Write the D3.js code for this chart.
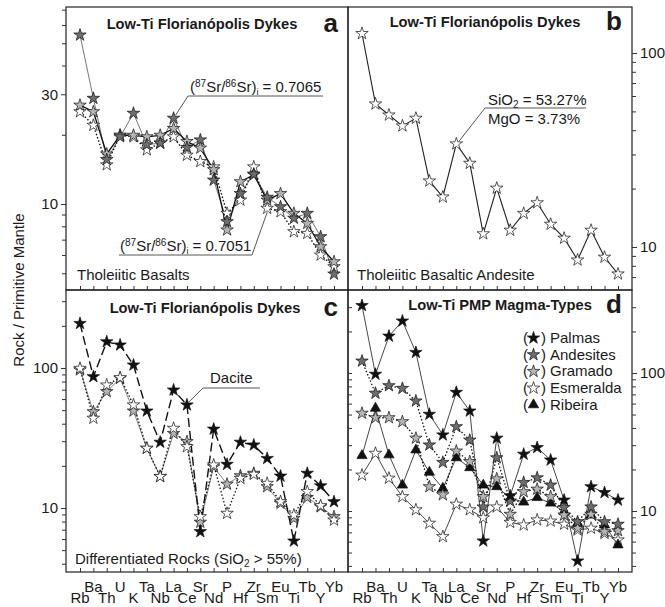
<!DOCTYPE html>
<html>
<head>
<meta charset="utf-8">
<script src="https://cdn.jsdelivr.net/npm/d3@7"></script>
<style>
  body { margin: 0; background: #fff; }
  svg { display: block; }
  text { font-family: "Liberation Sans", Arial, Helvetica, sans-serif; fill: #1a1a1a; }
</style>
</head>
<body>
<svg id="chart" width="665" height="607"></svg>
<script>
// Elements of the primitive-mantle normalised spider diagram (left to right)
const elements = ["Rb","Ba","Th","U","K","Ta","Nb","La","Ce","Sr","Nd","P","Hf","Zr","Sm","Eu","Ti","Tb","Y","Yb"];
// Axis labels are staggered in two rows
const upperRowLabels = ["Ba","U","Ta","La","Sr","P","Zr","Eu","Tb","Yb"];
const lowerRowLabels = ["Rb","Th","K","Nb","Ce","Nd","Hf","Sm","Ti","Y"];

// (a) Low-Ti Florianópolis dykes, tholeiitic basalts
const aHighSr  = [54.3,28.8,15.6,19.6,24.8,18.1,18.4,23.6,17.6,19.0,12.7,8.38,11.1,13.5,10.7,9.73,8.67,9.11,7.21,4.96];
const aMidSr   = [26.9,25.2,16.5,19.9,19.9,19.6,19.9,21.3,18.7,17.5,14.1,7.71,12.5,13.4,10.4,11.1,9.11,8.24,6.52,5.61];
const aLowSr   = [25.2,22.0,14.8,19.9,19.6,17.2,18.4,19.6,16.3,15.3,14.5,9.11,10.4,14.5,9.58,9.26,7.58,7.45,6.0,5.34];

// (b) tholeiitic basaltic andesite
const bAndesite = [126,54.6,47.9,42.1,46.1,21.9,18.1,34.0,27.0,11.7,20.1,12.2,14.9,16.9,13.1,11.1,8.57,12.2,8.86,7.26];

// (c) differentiated rocks (SiO2 > 55%)
const cDacite  = [208,86.7,154,146,105,49.3,29.5,69.6,54.5,6.78,36.6,20.5,29.5,28.2,22.6,16.9,5.81,17.7,14.4,11.1];
const cGrey    = [97,48.7,67.8,84.4,49.3,26.7,16.8,34.1,29.8,7.91,19.7,14.8,17.0,17.7,14.2,10.8,8.43,11.9,10.2,8.67];
const cWhite   = [99.5,43.8,75.6,85.3,54.5,26.7,16.8,37.1,27.4,8.67,20.3,9.16,16.3,17.4,15.0,11.1,8.91,13.1,10.4,8.2];

// (d) Low-Ti PMP magma-types
const dPalmas     = [308,97.9,185,238,141,50.2,35.6,72.4,53.0,6.07,33.7,12.9,25.8,28.8,23.4,12.0,4.34,15.0,13.6,12.0];
const dAndesites  = [122,71.3,80.9,77.4,62.7,30.1,22.5,40.8,32.6,10.7,24.3,11.8,16.1,17.4,15.4,10.6,8.36,10.7,8.36,8.02];
const dGramado    = [51.1,47.4,47.4,44.4,33.7,15.0,13.1,27.2,22.8,12.7,17.1,9.46,13.8,14.4,12.7,9.35,7.5,9.46,7.08,7.2];
const dEsmeralda  = [18.2,26.2,17.3,12.7,10.2,8.15,6.52,11.2,10.2,8.93,10.7,8.27,7.92,8.61,8.45,8.02,7.28,7.5,6.88,6.17];
const dRibeira    = [25.2,55.5,25.5,15.4,27.7,19.1,14.6,24.3,20.6,15.4,15.0,12.4,11.6,12.5,11.4,9.89,8.15,9.35,7.92,5.68];
const legendNames = ["Palmas","Andesites","Gramado","Esmeralda","Ribeira"];

// y-axis labelled values per panel
const aTickLabels = [10, 30];
const bTickLabels = [10, 100];
const cTickLabels = [10, 100];
const dTickLabels = [10, 100];

const svg = d3.select("#chart");
svg.append("rect").attr("width", 665).attr("height", 607).attr("fill", "#fff");

const FONT = 15;
const STAR = d3.symbol().type(d3.symbolStar).size(48);
const TRI = d3.symbol().type(d3.symbolTriangle).size(46);

const panels = {
  a: { x0: 66,  x1: 348, y0: 7,   y1: 290, domain: [4.228, 71.88], side: "left",  labels: aTickLabels },
  b: { x0: 348, x1: 632, y0: 7,   y1: 290, domain: [6.003, 172.6], side: "right", labels: bTickLabels },
  c: { x0: 66,  x1: 348, y0: 290, y1: 572, domain: [3.491, 360.7], side: "left",  labels: cTickLabels },
  d: { x0: 348, x1: 632, y0: 290, y1: 572, domain: [3.614, 399.4], side: "right", labels: dTickLabels }
};

function minorValues(domain) {
  const out = [];
  for (let e = -1; e <= 3; e++) {
    for (let m = 1; m <= 9; m++) {
      const v = m * Math.pow(10, e);
      if (v >= domain[0] && v <= domain[1]) out.push(v);
    }
  }
  return out;
}

Object.entries(panels).forEach(([key, p]) => {
  p.x = d3.scalePoint().domain(elements).range([p.x0 + 14, p.x1 - 14]);
  p.y = d3.scaleLog().domain(p.domain).range([p.y1, p.y0]);
  p.g = svg.append("g");

  // frame
  p.g.append("rect")
    .attr("x", p.x0).attr("y", p.y0)
    .attr("width", p.x1 - p.x0).attr("height", p.y1 - p.y0)
    .attr("fill", "none").attr("stroke", "#222").attr("stroke-width", 1.2);

  // element ticks along the bottom edge, pointing inward
  const xAxis = d3.axisBottom(p.x).tickSize(-4).tickFormat("");
  const gx = p.g.append("g").attr("transform", `translate(0,${p.y1})`).call(xAxis);
  gx.select(".domain").remove();
  gx.selectAll("line").attr("stroke", "#333");

  // log y axis: minor ticks + labelled ticks
  const minors = minorValues(p.domain).filter(v => !p.labels.includes(v));
  const axisFn = p.side === "left" ? d3.axisLeft : d3.axisRight;
  const ax = p.side === "left" ? p.x0 : p.x1;
  const gMinor = p.g.append("g").attr("transform", `translate(${ax},0)`)
    .call(axisFn(p.y).tickValues(minors).tickSize(4).tickFormat(""));
  gMinor.select(".domain").remove();
  gMinor.selectAll("line").attr("stroke", "#333");
  const gMajor = p.g.append("g").attr("transform", `translate(${ax},0)`)
    .call(axisFn(p.y).tickValues(p.labels).tickSize(5).tickPadding(3).tickFormat(d3.format("d")));
  gMajor.select(".domain").remove();
  gMajor.selectAll("line").attr("stroke", "#333");
  gMajor.selectAll("text").attr("font-size", FONT).attr("fill", "#1a1a1a")
    .attr("font-family", '"Liberation Sans", Arial, sans-serif');
});

// inward ticks of panel d on the shared vertical edge
{
  const p = panels.d;
  const gi = p.g.append("g").attr("transform", `translate(${p.x0},0)`)
    .call(d3.axisRight(p.y).tickValues(minorValues(p.domain)).tickSize(4).tickFormat(""));
  gi.select(".domain").remove();
  gi.selectAll("line").attr("stroke", "#333");
}

function drawSeries(p, values, opt) {
  const line = d3.line().x((d, i) => p.x(elements[i])).y(d => p.y(d));
  p.g.append("path").datum(values)
    .attr("d", line)
    .attr("fill", "none")
    .attr("stroke", opt.lineColor)
    .attr("stroke-width", opt.lineWidth)
    .attr("stroke-dasharray", opt.dash || null);
}
function drawMarks(p, values, opt) {
  p.g.append("g").selectAll("path").data(values).join("path")
    .attr("d", opt.symbol || STAR)
    .attr("transform", (d, i) => `translate(${p.x(elements[i])},${p.y(d)})`)
    .attr("fill", opt.fill)
    .attr("stroke", "#111")
    .attr("stroke-width", 0.7);
}

const DARK = "#6e6e6e", LIGHT = "#b5b5b5", WHITE = "#ffffff", BLACK = "#111";

function title(p, txt, letter, cx, by) {
  p.g.append("text").attr("x", cx).attr("y", by).attr("text-anchor", "middle")
    .attr("font-size", 14.7).attr("font-weight", "bold").text(txt);
  p.g.append("text").attr("x", p.x1 - 10).attr("y", by + 3).attr("text-anchor", "end")
    .attr("font-size", 26).attr("font-weight", "bold").text(letter);
}

// ---------- panel a ----------
{
  const p = panels.a;
  drawSeries(p, aHighSr, { lineColor: "#666", lineWidth: 0.9 });
  drawSeries(p, aMidSr, { lineColor: "#111", lineWidth: 1.3 });
  drawSeries(p, aLowSr, { lineColor: "#111", lineWidth: 1.4, dash: "1.5,2" });
  drawMarks(p, aLowSr, { fill: WHITE });
  drawMarks(p, aMidSr, { fill: LIGHT });
  drawMarks(p, aHighSr, { fill: DARK });
  title(p, "Low-Ti Florianópolis Dykes", "a", 202, 29);

  // isotope ratio callouts
  const laX = p.x("La"), laY = p.y(aHighSr[7]);
  p.g.append("path").attr("d", `M${laX + 2},${laY - 3}L188,96H323`)
    .attr("fill", "none").attr("stroke", "#444").attr("stroke-width", 0.9);
  const t1 = p.g.append("text").attr("x", 190).attr("y", 92).attr("font-size", FONT);
  t1.append("tspan").text("(");
  t1.append("tspan").attr("font-size", 10).attr("dy", -5).text("87");
  t1.append("tspan").attr("dy", 5).text("Sr/");
  t1.append("tspan").attr("font-size", 10).attr("dy", -5).text("86");
  t1.append("tspan").attr("dy", 5).text("Sr)");
  t1.append("tspan").attr("font-size", 9).attr("dy", 3).text("i");
  t1.append("tspan").attr("dy", -3).text(" = 0.7065");

  const smX = p.x("Sm"), smY = p.y(aLowSr[14]);
  p.g.append("path").attr("d", `M119,255H252L${smX},${smY + 4}`)
    .attr("fill", "none").attr("stroke", "#444").attr("stroke-width", 0.9);
  const t2 = p.g.append("text").attr("x", 120).attr("y", 251).attr("font-size", FONT);
  t2.append("tspan").text("(");
  t2.append("tspan").attr("font-size", 10).attr("dy", -5).text("87");
  t2.append("tspan").attr("dy", 5).text("Sr/");
  t2.append("tspan").attr("font-size", 10).attr("dy", -5).text("86");
  t2.append("tspan").attr("dy", 5).text("Sr)");
  t2.append("tspan").attr("font-size", 9).attr("dy", 3).text("i");
  t2.append("tspan").attr("dy", -3).text(" = 0.7051");

  p.g.append("text").attr("x", 77).attr("y", 280).attr("font-size", FONT).text("Tholeiitic Basalts");
}

// ---------- panel b ----------
{
  const p = panels.b;
  drawSeries(p, bAndesite, { lineColor: "#222", lineWidth: 1.1 });
  drawMarks(p, bAndesite, { fill: WHITE });
  title(p, "Low-Ti Florianópolis Dykes", "b", 485, 27);

  const laX = p.x("La"), laY = p.y(bAndesite[7]);
  p.g.append("path").attr("d", `M${laX + 3},${laY - 3}L485,108H586`)
    .attr("fill", "none").attr("stroke", "#444").attr("stroke-width", 0.9);
  const t = p.g.append("text").attr("x", 488).attr("y", 105).attr("font-size", FONT);
  t.append("tspan").text("SiO");
  t.append("tspan").attr("font-size", 10).attr("dy", 3).text("2");
  t.append("tspan").attr("dy", -3).text(" = 53.27%");
  p.g.append("text").attr("x", 488).attr("y", 124).attr("font-size", FONT).text("MgO = 3.73%");

  p.g.append("text").attr("x", 357).attr("y", 280).attr("font-size", FONT).text("Tholeiitic Basaltic Andesite");
}

// ---------- panel c ----------
{
  const p = panels.c;
  drawSeries(p, cGrey, { lineColor: "#777", lineWidth: 0.9 });
  drawSeries(p, cWhite, { lineColor: "#111", lineWidth: 1.3, dash: "1.5,2" });
  drawSeries(p, cDacite, { lineColor: "#111", lineWidth: 1.4, dash: "9,4" });
  drawMarks(p, cGrey, { fill: LIGHT });
  drawMarks(p, cWhite, { fill: WHITE });
  drawMarks(p, cDacite, { fill: BLACK });
  title(p, "Low-Ti Florianópolis Dykes", "c", 205, 313);

  const ceX = p.x("Ce"), ceY = p.y(cDacite[8]);
  p.g.append("path").attr("d", `M${ceX + 2},${ceY - 3}L203,388H260`)
    .attr("fill", "none").attr("stroke", "#444").attr("stroke-width", 0.9);
  p.g.append("text").attr("x", 210).attr("y", 383).attr("font-size", FONT).text("Dacite");

  const t = p.g.append("text").attr("x", 75).attr("y", 564).attr("font-size", FONT);
  t.append("tspan").text("Differentiated Rocks (SiO");
  t.append("tspan").attr("font-size", 10).attr("dy", 3).text("2");
  t.append("tspan").attr("dy", -3).text(" > 55%)");
}

// ---------- panel d ----------
{
  const p = panels.d;
  const styles = [
    { data: dEsmeralda, fill: WHITE, lineColor: "#333", lineWidth: 0.9 },
    { data: dRibeira,   fill: BLACK, lineColor: "#333", lineWidth: 0.9, symbol: TRI },
    { data: dGramado,   fill: LIGHT, lineColor: "#111", lineWidth: 1.3, dash: "1.5,2" },
    { data: dAndesites, fill: DARK,  lineColor: "#111", lineWidth: 1.3, dash: "1.5,2" },
    { data: dPalmas,    fill: BLACK, lineColor: "#333", lineWidth: 0.9 }
  ];
  styles.forEach(s => drawSeries(p, s.data, s));
  styles.forEach(s => drawMarks(p, s.data, s));
  title(p, "Low-Ti PMP Magma-Types", "d", 500, 310);

  // legend
  const legendMarks = [
    { fill: BLACK, symbol: STAR }, { fill: DARK, symbol: STAR }, { fill: LIGHT, symbol: STAR },
    { fill: WHITE, symbol: STAR }, { fill: BLACK, symbol: TRI }
  ];
  legendNames.forEach((name, i) => {
    const cy = 338 + i * 16.7;
    p.g.append("text").attr("x", 523).attr("y", cy + 5).attr("font-size", FONT).text("(");
    p.g.append("path").attr("d", legendMarks[i].symbol)
      .attr("transform", `translate(533.5,${cy})`)
      .attr("fill", legendMarks[i].fill).attr("stroke", "#111").attr("stroke-width", 0.7);
    p.g.append("text").attr("x", 541).attr("y", cy + 5).attr("font-size", FONT).text(")");
    p.g.append("text").attr("x", 550).attr("y", cy + 5).attr("font-size", FONT).text(name);
  });
}

// element labels under the bottom panels
[panels.c, panels.d].forEach(p => {
  p.g.append("g").selectAll("text").data(upperRowLabels).join("text")
    .attr("x", d => p.x(d)).attr("y", 592).attr("text-anchor", "middle")
    .attr("font-size", FONT).text(d => d);
  p.g.append("g").selectAll("text").data(lowerRowLabels).join("text")
    .attr("x", d => p.x(d)).attr("y", 603).attr("text-anchor", "middle")
    .attr("font-size", FONT).text(d => d);
});

// shared y-axis title
svg.append("text")
  .attr("transform", "translate(24,290) rotate(-90)")
  .attr("text-anchor", "middle").attr("font-size", FONT)
  .text("Rock / Primitive Mantle");
</script>
</body>
</html>
